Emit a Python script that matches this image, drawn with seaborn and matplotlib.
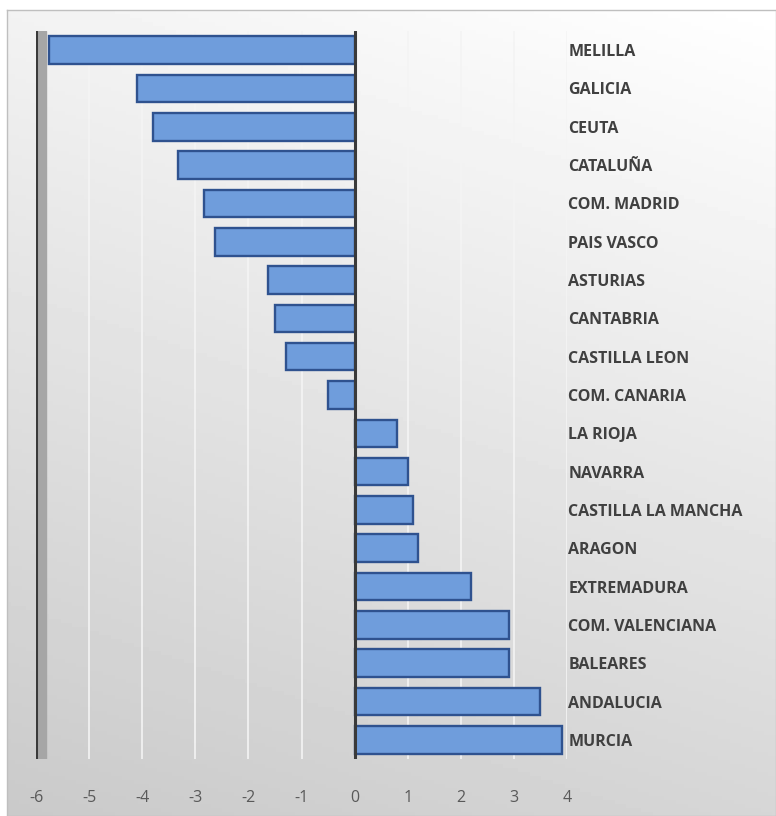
import numpy as np
import pandas as pd
import matplotlib.pyplot as plt
import seaborn as sns

# Data
regions = ["MELILLA", "GALICIA", "CEUTA", "CATALUÑA", "COM. MADRID", "PAIS VASCO",
           "ASTURIAS", "CANTABRIA", "CASTILLA LEON", "COM. CANARIA", "LA RIOJA",
           "NAVARRA", "CASTILLA LA MANCHA", "ARAGON", "EXTREMADURA",
           "COM. VALENCIANA", "BALEARES", "ANDALUCIA", "MURCIA"]
values = [-5.75, -4.1, -3.8, -3.32, -2.83, -2.62, -1.63, -1.5, -1.3, -0.5,
          0.8, 1.0, 1.1, 1.2, 2.2, 2.9, 2.9, 3.5, 3.9]
xticks = [-6, -5, -4, -3, -2, -1, 0, 1, 2, 3, 4]

df = pd.DataFrame({"region": regions, "value": values})

sns.set_style("white")
plt.rcParams["font.family"] = ["Open Sans", "DejaVu Sans"]

fig = plt.figure(figsize=(7.76, 8.16), dpi=100, facecolor="white")

# Background panel with soft gray gradient
bg = fig.add_axes([7 / 776, 0, 1 - 7 / 776, 1 - 10 / 816])
yy, xx = np.mgrid[0:1:200j, 0:1:200j]
shade = 0.95 - 0.16 * yy + 0.05 * xx
bg.imshow(shade, cmap="gray", vmin=0, vmax=1, aspect="auto",
          extent=[0, 1, 0, 1], origin="upper")
bg.set_xticks([])
bg.set_yticks([])
for s in bg.spines.values():
    s.set_color("#bfbfbf")
    s.set_linewidth(1)

# Main chart
ax = fig.add_axes([36 / 776, 1 - 759 / 816, 531 / 776, 728 / 816])
ax.set_facecolor("none")

sns.barplot(data=df, x="value", y="region", orient="h", color="#6f9ddc",
            saturation=1, edgecolor="#2f528f", linewidth=1.7, width=0.72,
            ax=ax, zorder=3)

ax.set_xlim(-6, 4)
ax.set_xticks(xticks)
ax.set_xticklabels([str(t) for t in xticks], color="#595959", fontsize=11.5)
ax.tick_params(axis="x", length=0, pad=22)

ax.yaxis.tick_right()
ax.tick_params(axis="y", length=0, pad=1)
for lbl in ax.get_yticklabels():
    lbl.set_fontweight("bold")
    lbl.set_color("#404040")
    lbl.set_fontsize(11.5)
    lbl.set_horizontalalignment("left")

ax.set_xlabel("")
ax.set_ylabel("")

for t in xticks:
    if t not in (-6, 0):
        ax.axvline(t, color="#f4f4f4", linewidth=1.2, zorder=1)
ax.axvline(0, color="#3a3a3a", linewidth=2.2, zorder=4)
ax.axvline(-6, color="#3a3a3a", linewidth=2.2, zorder=4)
ax.axvspan(-6, -5.82, color="#a6a6a6", zorder=2)

for s in ax.spines.values():
    s.set_visible(False)

fig.savefig("out.png", dpi=100, facecolor="white")
